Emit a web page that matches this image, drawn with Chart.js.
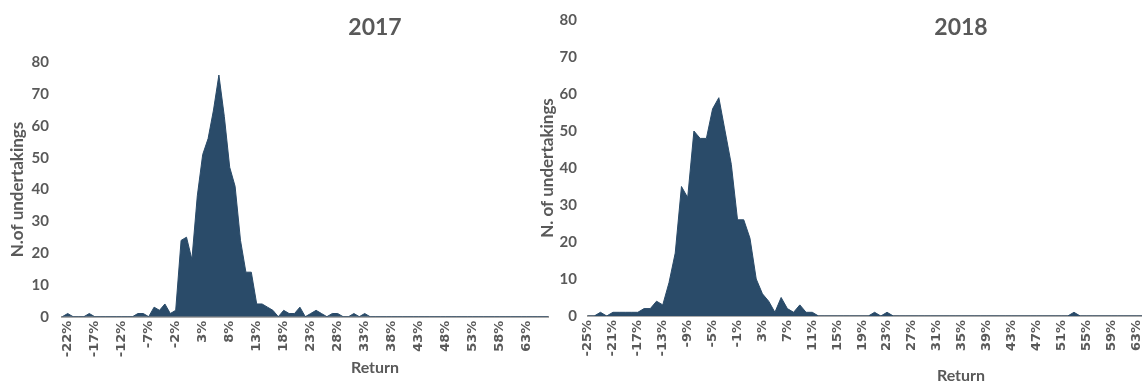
<!DOCTYPE html>
<html>
<head>
<meta charset="utf-8">
<script src="https://cdn.jsdelivr.net/npm/chart.js@4.4.1/dist/chart.umd.min.js"></script>
<style>
  html, body { margin: 0; padding: 0; background: #ffffff; overflow: hidden; width: 1142px; height: 385px; }
  canvas { position: absolute; top: 0; }
  #c2017 { left: 0px; }
  #c2018 { left: 530px; }
</style>
</head>
<body>
<canvas id="c2017" width="750" height="385"></canvas>
<canvas id="c2018" width="862" height="385"></canvas>
<script>
// ---------- DATA ----------
// 2017: return categories (%), one per 1%
const returns2017 = [-23,-22,-21,-20,-19,-18,-17,-16,-15,-14,-13,-12,-11,-10,-9,-8,-7,-6,-5,-4,-3,-2,-1,0,1,2,3,4,5,6,7,8,9,10,11,12,13,14,15,16,17,18,19,20,21,22,23,24,25,26,27,28,29,30,31,32,33,34,35,36,37,38,39,40,41,42,43,44,45,46,47,48,49,50,51,52,53,54,55,56,57,58,59,60,61,62,63,64,65,66,67];
const counts2017 = [0,1,0,0,0,1,0,0,0,0,0,0,0,0,1,1,0,3,2,4,1,2,24,25,18,38,51,56,65,76,63,47,41,24,14,14,4,4,3,2,0,2,1,1,3,0,1,2,1,0,1,1,0,0,1,0,1,0,0,0,0,0,0,0,0,0,0,0,0,0,0,0,0,0,0,0,0,0,0,0,0,0,0,0,0,0,0,0,0,0,0];
const tickLabels2017 = ['-22%','-17%','-12%','-7%','-2%','3%','8%','13%','18%','23%','28%','33%','38%','43%','48%','53%','58%','63%'];

// 2018: return categories (%), one per 1%
const returns2018 = [-25,-24,-23,-22,-21,-20,-19,-18,-17,-16,-15,-14,-13,-12,-11,-10,-9,-8,-7,-6,-5,-4,-3,-2,-1,0,1,2,3,4,5,6,7,8,9,10,11,12,13,14,15,16,17,18,19,20,21,22,23,24,25,26,27,28,29,30,31,32,33,34,35,36,37,38,39,40,41,42,43,44,45,46,47,48,49,50,51,52,53,54,55,56,57,58,59,60,61,62,63,64];
const counts2018 = [0,0,1,0,1,1,1,1,1,2,2,4,3,9,17,35,32,50,48,48,56,59,50,41,26,26,21,10,6,4,1,5,2,1,3,1,1,0,0,0,0,0,0,0,0,0,1,0,1,0,0,0,0,0,0,0,0,0,0,0,0,0,0,0,0,0,0,0,0,0,0,0,0,0,0,0,0,0,1,0,0,0,0,0,0,0,0,0,0,0];
const tickLabels2018 = ['-25%','-21%','-17%','-13%','-9%','-5%','-1%','3%','7%','11%','15%','19%','23%','27%','31%','35%','39%','43%','47%','51%','55%','59%','63%'];

const yTicks = { min: 0, max: 80, step: 10 };

// ---------- STYLE ----------
const AREA = '#2a4b69';
const TEXT = '#595959';
const AXIS = '#8f8f8f';

function makeChart(canvasId, title, cats, counts, tickLabels, geo) {
  const labels = cats.map(v => v + '%');
  return new Chart(document.getElementById(canvasId), {
    type: 'line',
    data: {
      labels: labels,
      datasets: [{
        label: 'N. of undertakings',
        data: counts,
        fill: 'origin',
        backgroundColor: AREA,
        borderColor: AREA,
        borderWidth: 1,
        pointRadius: 0,
        pointHoverRadius: 0,
        tension: 0
      }]
    },
    options: {
      responsive: false,
      animation: false,
      events: [],
      layout: { padding: 0 },
      plugins: {
        legend: { display: false },
        tooltip: { enabled: false },
        title: {
          display: true,
          text: title,
          color: TEXT,
          font: { family: 'Lato', size: 23, weight: 'bold' },
          padding: { top: geo.titleTop, bottom: geo.titleBottom }
        },
        subtitle: {
          display: true,
          position: 'bottom',
          text: 'Return',
          color: TEXT,
          font: { family: 'Lato', size: 16, weight: 'bold' },
          padding: { top: 0, bottom: geo.subBottom }
        }
      },
      scales: {
        x: {
          type: 'category',
          offset: false,
          grid: { display: false, drawTicks: false },
          border: { display: true, color: AXIS, width: 1.8 },
          ticks: {
            autoSkip: false,
            minRotation: 90,
            maxRotation: 90,
            padding: 4,
            color: TEXT,
            font: { family: 'DejaVu Sans', size: 13, weight: 'bold' },
            callback: function (v) {
              const l = this.getLabelForValue(v);
              return tickLabels.includes(l) ? l : '';
            }
          },
          afterFit: s => { s.height = geo.xHeight; }
        },
        y: {
          position: 'left',
          min: yTicks.min,
          max: yTicks.max,
          grid: { display: false, drawTicks: false },
          border: { display: false },
          ticks: {
            stepSize: yTicks.step,
            padding: geo.yPad,
            color: TEXT,
            font: { family: 'Lato', size: 15, weight: 'bold' }
          },
          title: {
            display: true,
            text: geo.yTitle,
            color: TEXT,
            font: { family: 'Lato', size: 17, weight: 'bold' },
            padding: { top: 7.8, bottom: 0 }
          },
          afterFit: s => { s.width = geo.yWidth; }
        },
        pad: {
          type: 'linear',
          axis: 'y',
          position: 'right',
          display: true,
          grid: { display: false, drawTicks: false },
          border: { display: false },
          ticks: { display: false },
          afterFit: s => { s.width = geo.rightGap; }
        }
      }
    }
  });
}

function draw() {
  makeChart('c2017', '2017', returns2017, counts2017, tickLabels2017, {
    titleTop: 14.2, titleBottom: 20.5, subBottom: 7.4,
    xHeight: 41.7, yWidth: 62.3, yPad: 13.3, rightGap: 750 - 548.3,
    yTitle: 'N.of undertakings'
  });
  makeChart('c2018', '2018', returns2018, counts2018, tickLabels2018, {
    titleTop: 10.7, titleBottom: -21.6, subBottom: 0,
    xHeight: 49.8, yWidth: 58, yPad: 11, rightGap: 862 - 612.5,
    yTitle: 'N. of undertakings'
  });
}

const fontLoads = [
  'bold 16px Lato', 'bold 23px Lato', 'bold 13px "DejaVu Sans"'
].map(f => (document.fonts && document.fonts.load) ? document.fonts.load(f).catch(() => null) : Promise.resolve());
Promise.all(fontLoads).then(draw, draw);
</script>
</body>
</html>
